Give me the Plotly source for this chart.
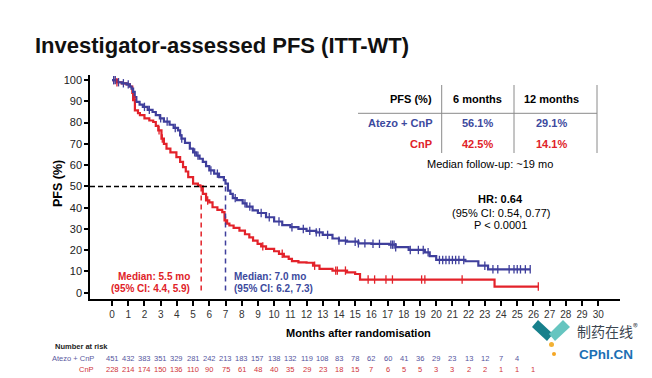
import numpy as np
import plotly.graph_objects as go

# ---------------- data ----------------
atezo_t = [0, 0.3, 0.6, 0.9, 1.1, 1.2, 1.3, 1.4, 1.5, 1.7, 1.9, 2.2, 2.5, 2.7, 2.95, 3.2, 3.55, 3.8,
           4.07, 4.2, 4.28, 4.5, 4.8, 5.0, 5.2, 5.4, 5.6, 5.8, 6.0, 6.3, 6.6, 6.9, 7.0, 7.15, 7.3,
           7.45, 7.7, 8.06, 8.3, 8.67, 9.0, 9.5, 10.0, 10.5, 11.0, 11.5, 12.0, 12.6, 13.0, 13.6,
           14.0, 14.5, 15.2, 16.0, 17.1, 17.5, 18.3, 19.3, 19.6, 20.0, 21.8, 22.6, 23.2, 25.8]
atezo_s = [100, 99, 98.5, 98, 97, 96, 94.5, 92, 89.8, 88.5, 87.4, 86, 85, 83.5, 82, 80.5, 79, 77.5,
           76.4, 74, 72.5, 70.5, 67.8, 66, 64.5, 63, 61.5, 59.5, 57.5, 56, 54.4, 53, 51.3, 48, 46.5,
           44.5, 43.5, 42, 40.5, 38.7, 37.5, 35.5, 33.5, 31.8, 30.8, 30, 29.1, 28.4, 27.2, 25.5,
           24.5, 24, 23.2, 23, 22.6, 21.4, 20.1, 19, 17.2, 15.4, 14.8, 12.7, 11.0, 11.0]

cnp_t = [0, 0.3, 0.6, 0.9, 1.1, 1.25, 1.3, 1.41, 1.6, 1.72, 2.0, 2.3, 2.54, 2.7, 2.85, 3.05, 3.2,
         3.36, 3.6, 3.97, 4.2, 4.38, 4.55, 4.7, 5.0, 5.3, 5.45, 5.6, 5.8, 6.0, 6.2, 6.5, 6.8, 6.94,
         7.1, 7.24, 7.5, 7.86, 8.2, 8.47, 8.7, 8.98, 9.2, 9.5, 10.0, 10.3, 10.6, 10.9, 11.1, 11.5,
         12.0, 12.4, 12.8, 13.6, 14.5, 15.0, 15.3, 23.6, 26.3]
cnp_s = [100, 99, 98.5, 98, 97, 94, 90.6, 85.8, 84.5, 83.5, 82, 81, 80.3, 78.5, 76.4, 72.5, 70,
         67.8, 66, 63.8, 61.5, 59.1, 57, 54.4, 51.3, 50.5, 50, 46.5, 43.4, 42.5, 40.2, 39, 37.9, 34,
         32.5, 31.6, 30.5, 29.2, 27.5, 26, 24.5, 23, 21.8, 20.6, 19.5, 18.3, 17, 15.9, 14.9, 14.3,
         14.1, 12.7, 11.2, 10.4, 9.6, 8.8, 6.2, 2.9, 2.9]

atezo_cens = [0.1, 0.2, 0.4, 0.7, 1.0, 2.0, 2.3, 3.0, 3.4, 3.9, 4.3, 5.1, 5.3, 6.1, 6.5, 7.6, 8.2,
              8.5, 9.2, 9.7, 10.3, 11.1, 11.8, 12.2, 12.6, 12.8, 13.3, 14.0, 14.4, 15.0, 15.2, 15.6,
              16.1, 16.5, 17.2, 17.3, 17.4, 17.5, 18.4, 18.9, 19.2, 19.5, 20.2, 20.4, 20.6, 20.8,
              21.0, 21.2, 21.4, 21.7, 23.0, 23.5, 23.8, 24.5, 24.8, 25.0, 25.2, 25.5, 25.8]
cnp_cens = [0.1, 0.3, 1.4, 2.9, 3.1, 5.9, 7.0, 9.3, 10.5, 12.5, 13.8, 13.9, 14.4, 15.8, 16.2,
            16.9, 17.3, 19.1, 19.3, 21.6, 26.3]

median_atezo = 7.0
median_cnp = 5.5

months = list(range(0, 31))
risk_months_atezo = list(range(0, 26))
risk_atezo = [451, 432, 383, 351, 329, 281, 242, 213, 183, 157, 138, 132, 119, 108, 83, 78, 62,
              60, 41, 36, 29, 23, 13, 12, 7, 4]
risk_months_cnp = list(range(0, 27))
risk_cnp = [228, 214, 174, 150, 136, 110, 90, 75, 61, 48, 40, 35, 29, 23, 18, 15, 7, 6, 5, 5, 3,
            3, 2, 2, 1, 1, 1]

table_cols = ["PFS (%)", "6 months", "12 months"]
table_arms = ["Atezo + CnP", "CnP"]
table_vals = [["56.1%", "29.1%"], ["42.5%", "14.1%"]]

# ---------------- style ----------------
FONT = "Liberation Sans, Arial, sans-serif"
BLUE = "#3f3f9c"
BLUE_TXT = "#3c4a9e"
RED = "#e3222a"
RED_TXT = "#e02228"
PAGE_W, PAGE_H = 652, 378
OFF = 8  # default page body margin
L, R, T, B = 90, 620, 75, 299   # plot area in page pixels
XR = [-1.36, 31.34]
YR = [-2.96, 102.4]


def px(x):
    return (x - L) / (R - L)


def py(y):
    return (B - y) / (B - T)


def surv_at(ts, ss, t):
    ts = np.asarray(ts)
    ss = np.asarray(ss)
    idx = np.searchsorted(ts, t, side="right") - 1
    return ss[np.clip(idx, 0, len(ss) - 1)]


fig = go.Figure()

# curves
fig.add_trace(go.Scatter(x=cnp_t, y=cnp_s, mode="lines", line=dict(color=RED, width=2.2, shape="hv"),
                         hoverinfo="skip", showlegend=False))
fig.add_trace(go.Scatter(x=atezo_t, y=atezo_s, mode="lines", line=dict(color=BLUE, width=2.2, shape="hv"),
                         hoverinfo="skip", showlegend=False))
fig.add_trace(go.Scatter(x=cnp_cens, y=surv_at(cnp_t, cnp_s, cnp_cens), mode="markers",
                         marker=dict(symbol="line-ns-open", size=6, color=RED,
                                     line=dict(color=RED, width=1.3)),
                         hoverinfo="skip", showlegend=False))
fig.add_trace(go.Scatter(x=atezo_cens, y=surv_at(atezo_t, atezo_s, atezo_cens), mode="markers",
                         marker=dict(symbol="line-ns-open", size=6, color=BLUE,
                                     line=dict(color=BLUE, width=1.3)),
                         hoverinfo="skip", showlegend=False))

shapes = []
# median lines
shapes.append(dict(type="line", xref="x", yref="y", x0=XR[0], x1=median_atezo, y0=50, y1=50,
                   line=dict(color="black", width=1.5, dash="5px,3px")))
shapes.append(dict(type="line", xref="x", yref="y", x0=median_cnp, x1=median_cnp, y0=50, y1=0,
                   line=dict(color=RED, width=1.5, dash="5px,4px")))
shapes.append(dict(type="line", xref="x", yref="y", x0=median_atezo, x1=median_atezo, y0=50, y1=0,
                   line=dict(color=BLUE, width=1.5, dash="5px,4px")))

# table lines
TL = dict(color="#8a8a8a", width=1)
for xv in [441.7, 514, 597]:
    shapes.append(dict(type="line", xref="paper", yref="paper", x0=px(xv), x1=px(xv),
                       y0=py(85), y1=py(153), line=TL))
shapes.append(dict(type="line", xref="paper", yref="paper", x0=px(358), x1=px(597),
                   y0=py(113.3), y1=py(113.3), line=TL))


# logo icon
def path(pts):
    return "M " + " L ".join(f"{px(a):.5f},{py(b):.5f}" for a, b in pts) + " Z"


shapes.append(dict(type="path", xref="paper", yref="paper",
                   path=path([(532, 327), (538, 320), (553, 334), (547, 341)]),
                   fillcolor="#17808c", line=dict(width=0)))
shapes.append(dict(type="path", xref="paper", yref="paper",
                   path=path([(549, 334), (563, 320), (570, 327), (555, 341)]),
                   fillcolor="#66c5c0", line=dict(width=0)))
shapes.append(dict(type="circle", xref="paper", yref="paper", x0=px(549), x1=px(554),
                   y0=py(342), y1=py(347), fillcolor="#f2b134", line=dict(width=0)))
shapes.append(dict(type="circle", xref="paper", yref="paper", x0=px(552), x1=px(556),
                   y0=py(352), y1=py(356), fillcolor="#f5a623", line=dict(width=0)))

ann = []


def text(x, y, s, size=11, color="black", bold=False, anchor="center", angle=0, family=FONT):
    ann.append(dict(x=px(x), y=py(y), xref="paper", yref="paper", text=(f"<b>{s}</b>" if bold else s),
                    showarrow=False, xanchor=anchor, yanchor="middle", textangle=angle,
                    font=dict(family=family, size=size, color=color)))


# title
text(33, 46, "Investigator-assessed PFS (ITT-WT)", size=22, color="#111111", bold=True, anchor="left")
# axis titles
text(58, 184, "PFS (%)", size=12.5, bold=True, angle=-90)
text(358, 333, "Months after randomisation", size=11, bold=True)

# table
text(434, 99, table_cols[0], size=11, bold=True, anchor="right")
text(477.5, 99, table_cols[1], size=11, bold=True)
text(551, 99, table_cols[2], size=11, bold=True)
row_y = [123.5, 143.5]
row_c = [BLUE_TXT, RED_TXT]
for i, arm in enumerate(table_arms):
    text(434, row_y[i], arm, size=11, bold=True, color=row_c[i], anchor="right")
    text(477.5, row_y[i], table_vals[i][0], size=11, bold=True, color=row_c[i])
    text(551, row_y[i], table_vals[i][1], size=11, bold=True, color=row_c[i])
text(490, 164, "Median follow-up: ~19 mo", size=11)

# HR
text(500.7, 199, "HR: 0.64", size=11, bold=True)
text(500.7, 212.5, "(95% CI: 0.54, 0.77)", size=11)
text(500.7, 225, "P &lt; 0.0001", size=11)

# medians
text(191.7, 276, f"Median: {median_cnp} mo", size=10, bold=True, color=RED_TXT, anchor="right")
text(191.7, 288, "(95% CI: 4.4, 5.9)", size=10, bold=True, color=RED_TXT, anchor="right")
text(232, 276, f"Median: {median_atezo} mo", size=10, bold=True, color=BLUE_TXT, anchor="left")
text(232, 288, "(95% CI: 6.2, 7.3)", size=10, bold=True, color=BLUE_TXT, anchor="left")

# number at risk
text(52.5, 346.5, "Number at risk", size=7.5, bold=True, color="#222222", anchor="left")
text(95.5, 358.3, "Atezo + CnP", size=7.5, color="#5a5a9e", anchor="right")
text(95.5, 369.3, "CnP", size=7.5, color="#d0343a", anchor="right")
for m, n in zip(risk_months_atezo, risk_atezo):
    ann.append(dict(x=m, y=py(358.3), xref="x", yref="paper", text=str(n), showarrow=False,
                    xanchor="center", yanchor="middle", font=dict(family=FONT, size=7.5, color="#55559e")))
for m, n in zip(risk_months_cnp, risk_cnp):
    ann.append(dict(x=m, y=py(369.3), xref="x", yref="paper", text=str(n), showarrow=False,
                    xanchor="center", yanchor="middle", font=dict(family=FONT, size=7.5, color="#d0343a")))

# logo text
text(575, 330, "制药在线<sup>®</sup>", size=14, color="#3b4650", anchor="left",
     family="Noto Sans CJK SC")
text(577, 354, "CPhI.CN", size=13.5, bold=True, color="#1c6fb4", anchor="left")

fig.update_layout(
    width=PAGE_W - OFF, height=PAGE_H - OFF,
    margin=dict(l=L - OFF, r=PAGE_W - R, t=T - OFF, b=PAGE_H - B, pad=0),
    paper_bgcolor="white", plot_bgcolor="white",
    showlegend=False,
    shapes=shapes,
    annotations=ann,
    font=dict(family=FONT, color="#222222"),
    xaxis=dict(range=XR, tickmode="array", tickvals=months, ticktext=[str(m) for m in months],
               showline=True, linecolor="black", linewidth=1.5, ticks="outside", ticklen=5,
               tickwidth=1.5, tickcolor="black", showgrid=False, zeroline=False,
               tickfont=dict(family=FONT, size=10, color="#333333")),
    yaxis=dict(range=YR, tickmode="array", tickvals=list(range(0, 101, 10)),
               showline=True, linecolor="black", linewidth=1.5, ticks="outside", ticklen=4,
               tickwidth=1.5, tickcolor="black", showgrid=False, zeroline=False,
               tickfont=dict(family=FONT, size=11, color="#222222")),
)

fig.write_html("out.html")
